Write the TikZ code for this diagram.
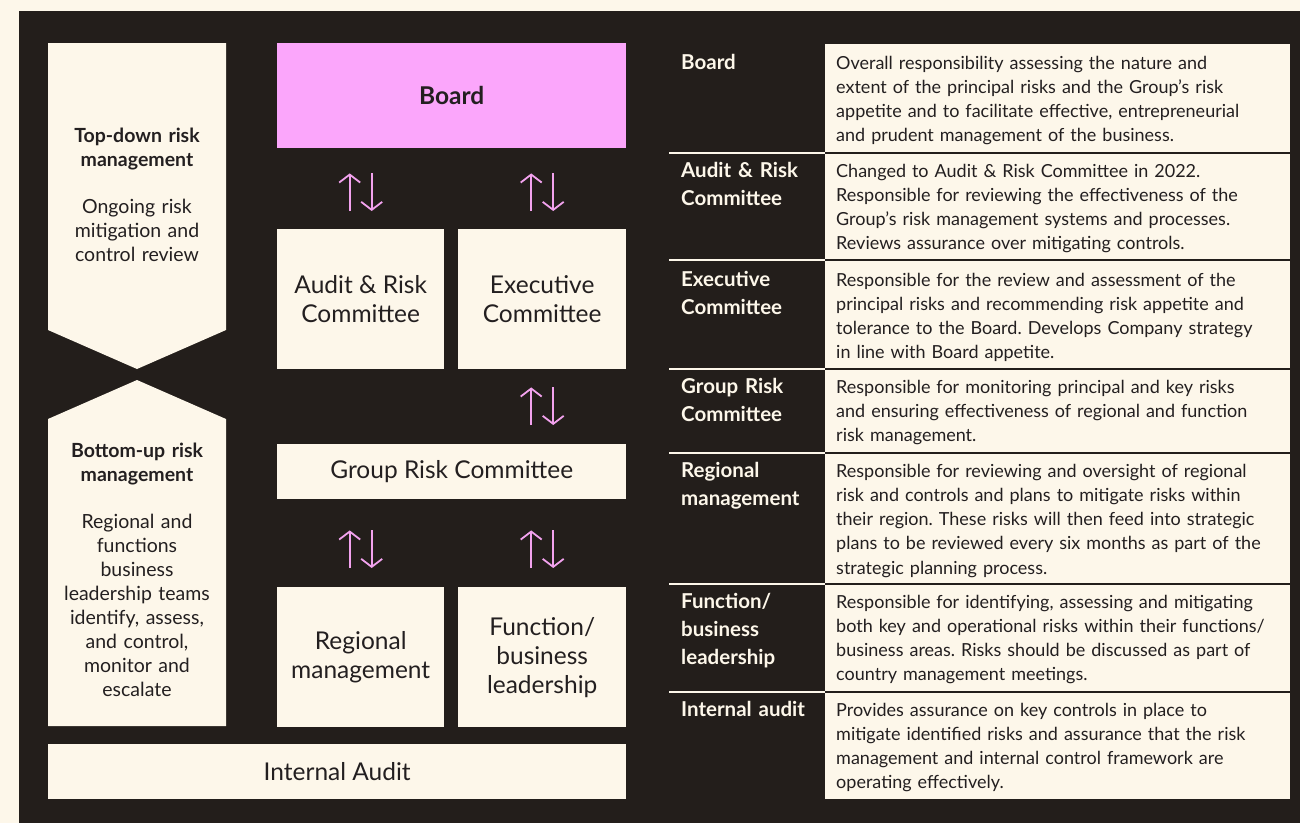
\documentclass[tikz,border=0pt]{standalone}
\usepackage{fontspec}
\setmainfont{Lato}
\usepackage{xcolor}
\usetikzlibrary{arrows.meta,positioning}
\definecolor{riskdark}{HTML}{231E1B}
\definecolor{riskcream}{HTML}{FDF7EA}
\definecolor{riskpink}{HTML}{FBA6FB}
\definecolor{arrowpink}{HTML}{F2A2EE}
\definecolor{inkdark}{HTML}{231F20}
\frenchspacing

\tikzset{
  orgbox/.style={fill=riskcream, text=inkdark, inner sep=0pt, anchor=north west,
    align=center, font=\fontsize{24.5}{29}\selectfont},
  sidetext/.style={text=inkdark, inner sep=0pt, anchor=base, text width=175pt,
    align=center, font=\fontsize{19.5}{24}\selectfont},
  updown/.style={draw=arrowpink, line width=1.8pt, -{Straight Barb[length=8pt,width=21pt]}},
  rowlabel/.style={text=riskcream, inner sep=0pt, anchor=base west, text width=200pt,
    align=left, font=\bfseries\fontsize{20.5}{28}\selectfont},
  rowtext/.style={text=inkdark, inner sep=0pt, anchor=base west, text width=600pt,
    align=left, font=\fontsize{18}{24.3}\selectfont}
}

\begin{document}
\begin{tikzpicture}[x=1pt,y=-1pt]
  \useasboundingbox (0,0) rectangle (1300,823);
  \fill[riskcream] (0,0) rectangle (1300,823);
  \fill[riskdark] (19,11) rectangle (1300,823);

  % side chevrons
  \fill[riskcream] (48,43) -- (226,43) -- (226,330) -- (137,369) -- (48,330) -- cycle;
  \fill[riskcream] (137,380) -- (226,419) -- (226,726) -- (48,726) -- (48,419) -- cycle;
  \node[sidetext] (topdown) at (137,142) {\textbf{Top-down risk}\\\textbf{management}\\[23pt]
    Ongoing risk\\mitigation and\\control review};
  \node[sidetext] (bottomup) at (137,457) {\textbf{Bottom-up risk}\\\textbf{management}\\[23pt]
    Regional and\\functions\\business\\leadership teams\\identify, assess,\\and control,\\monitor and\\escalate};

  % structure boxes
  \node[orgbox, fill=riskpink, minimum width=349pt, minimum height=105pt,
    font=\bfseries\fontsize{24.5}{29}\selectfont] (board) at (277,43) {Board};
  \node[orgbox, minimum width=167pt, minimum height=140pt] (arc) at (277,229) {Audit \& Risk\\Committee};
  \node[orgbox, minimum width=168pt, minimum height=140pt] (exec) at (458,229) {Executive\\Committee};
  \node[orgbox, minimum width=349pt, minimum height=55pt] (grc) at (277,444) {Group Risk Committee};
  \node[orgbox, minimum width=167pt, minimum height=140pt] (regional) at (277,587) {Regional\\management};
  \node[orgbox, minimum width=168pt, minimum height=140pt] (function) at (458,587) {Function/\\business\\leadership};
  \node[orgbox, minimum width=578pt, minimum height=55pt] (internal) at (48,744) {Internal Audit};

  % two-way arrows
  \foreach \lower/\upper/\sl/\su in {arc/board/18/25, exec/board/18/25} {
    \draw[updown, shorten <=\sl pt, shorten >=\su pt] ([xshift=-11pt]\lower.north) -- ([xshift=-11pt]\lower.north |- \upper.south);
    \draw[updown, shorten <=\su pt, shorten >=\sl pt] ([xshift=11pt]\lower.north |- \upper.south) -- ([xshift=11pt]\lower.north);
  }
  \draw[updown, shorten <=19pt, shorten >=18pt] ([xshift=-11pt]exec.south |- grc.north) -- ([xshift=-11pt]exec.south);
  \draw[updown, shorten <=18pt, shorten >=19pt] ([xshift=11pt]exec.south) -- ([xshift=11pt]exec.south |- grc.north);
  \foreach \lower in {regional, function} {
    \draw[updown, shorten <=19pt, shorten >=31pt] ([xshift=-11pt]\lower.north) -- ([xshift=-11pt]\lower.north |- grc.south);
    \draw[updown, shorten <=31pt, shorten >=19pt] ([xshift=11pt]\lower.north |- grc.south) -- ([xshift=11pt]\lower.north);
  }

  % table cells and rules
  \foreach \top/\bot in {44/152, 154/259, 261/368, 370/452, 454/583, 585/691, 693/799}
    \fill[riskcream] (825,\top) rectangle (1290,\bot);
  \foreach \y in {153, 260, 369, 453, 584, 692}
    \draw[riskcream, line width=1.2pt] (669,\y) -- (825,\y);

  % table texts
  \node[rowlabel] (lbboard) at (681,69) {Board};
  \node[rowtext] (txboard) at (836,69) {Overall responsibility assessing the nature and\\
    extent of the principal risks and the Group’s risk\\appetite and to facilitate effective, entrepreneurial\\
    and prudent management of the business.};
  \node[rowlabel] (lbarc) at (681,177) {Audit \& Risk\\Committee};
  \node[rowtext] (txarc) at (836,177) {Changed to Audit \& Risk Committee in 2022.\\
    Responsible for reviewing the effectiveness of the\\Group’s risk management systems and processes.\\
    Reviews assurance over mitigating controls.};
  \node[rowlabel] (lbexec) at (681,286) {Executive\\Committee};
  \node[rowtext] (txexec) at (836,286) {Responsible for the review and assessment of the\\
    principal risks and recommending risk appetite and\\tolerance to the Board. Develops Company strategy\\
    in line with Board appetite.};
  \node[rowlabel] (lbgrc) at (681,393) {Group Risk\\Committee};
  \node[rowtext] (txgrc) at (836,393) {Responsible for monitoring principal and key risks\\
    and ensuring effectiveness of regional and function\\risk management.};
  \node[rowlabel] (lbregional) at (681,477) {Regional\\management};
  \node[rowtext] (txregional) at (836,477) {Responsible for reviewing and oversight of regional\\
    risk and controls and plans to mitigate risks within\\their region. These risks will then feed into strategic\\
    plans to be reviewed every six months as part of the\\strategic planning process.};
  \node[rowlabel] (lbfunction) at (681,608) {Function/\\business\\leadership};
  \node[rowtext] (txfunction) at (836,608) {Responsible for identifying, assessing and mitigating\\
    both key and operational risks within their functions/\\business areas. Risks should be discussed as part of\\
    country management meetings.};
  \node[rowlabel] (lbinternal) at (681,716) {Internal audit};
  \node[rowtext] (txinternal) at (836,716) {Provides assurance on key controls in place to\\
    mitigate identified risks and assurance that the risk\\management and internal control framework are\\
    operating effectively.};
\end{tikzpicture}
\end{document}
